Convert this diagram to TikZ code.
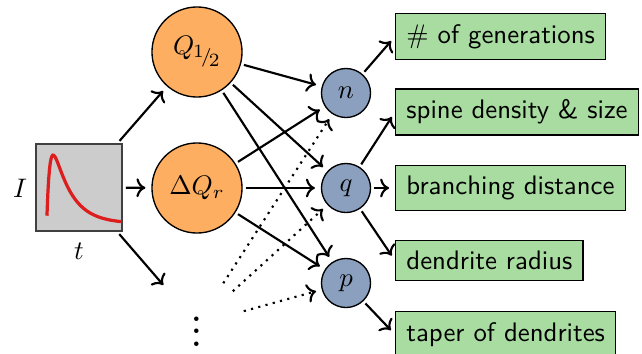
\documentclass[tikz,border=0pt]{standalone}
\usetikzlibrary{arrows.meta}
\definecolor{qorange}{RGB}{253,174,97}
\definecolor{pblue}{RGB}{138,160,190}
\definecolor{ogreen}{RGB}{168,220,160}
\definecolor{boxgray}{RGB}{204,204,204}
\definecolor{curvered}{RGB}{220,30,30}
\begin{document}
\begin{tikzpicture}[x=0.3731pt,y=-0.3731pt,
  arr/.style={->, thick, shorten <=1.1pt, shorten >=2.2pt},
  dotarr/.style={arr, dotted},
  sigbox/.style={draw=black!75, fill=boxgray, line width=0.6pt, minimum width=32.1pt, minimum height=32.5pt, inner sep=0pt},
  orangec/.style={circle, draw, fill=qorange, line width=0.5pt, minimum size=33.6pt, inner sep=0pt},
  hiddenc/.style={circle, minimum size=33.6pt, inner sep=0pt},
  bluec/.style={circle, draw, fill=pblue, line width=0.5pt, minimum size=18.3pt, inner sep=0pt},
  outbox/.style={draw, fill=ogreen, line width=0.5pt, font=\sffamily, inner sep=4pt, anchor=west}]
\useasboundingbox (0,0) rectangle (642,353);
% input signal
\node[sigbox] (sig) at (79,187.5) {};
\draw[curvered, line width=1.2pt] plot[domain=0.25:75, samples=90, variable=\u] ({46.7+\u}, {223.5-117.5*(exp(-\u/18)-exp(-\u/3))});
\node (Ilab) at (20,188) {$I$};
\node (tlab) at (79,251) {$t$};
% features
\node[orangec] (Q) at (197,52) {$Q_{\mkern-1mu\raisebox{0.45ex}{$\scriptstyle1$}\mkern-2.5mu/\mkern-2.5mu\raisebox{-0.35ex}{$\scriptstyle2$}}$};
\node[orangec] (dQ) at (197,188) {$\Delta Q_r$};
\node[hiddenc] (dots) at (197,324) {};
\node[scale=1.2, font=\Large] (vd) at (197,322) {$\vdots$};
% parameters
\node[bluec] (n) at (346,93) {$n$};
\node[bluec] (q) at (346,188) {$q$};
\node[bluec] (p) at (346,283) {$p$};
% outputs
\node[outbox] (gen) at (395,36.5) {\# of generations};
\node[outbox] (spine) at (395,112) {spine density \& size};
\node[outbox] (branch) at (395,188) {branching distance};
\node[outbox] (radius) at (395,260.5) {dendrite radius};
\node[outbox] (taper) at (395,334.5) {taper of dendrites};
% connectors
\draw[arr] (sig) -- (Q);
\draw[arr] (sig) -- (dQ);
\draw[arr] (sig) -- (dots);
\draw[arr] (Q) -- (n);
\draw[arr] (Q) -- (q);
\draw[arr] (Q) -- (p);
\draw[arr] (dQ) -- (n);
\draw[arr] (dQ) -- (q);
\draw[arr] (dQ) -- (p);
\draw[dotarr] (dots) -- (n);
\draw[dotarr] (dots) -- (q);
\draw[dotarr] (dots) -- (p);
\draw[arr] (n) -- (gen.west);
\draw[arr] (q) -- (spine.west);
\draw[arr] (q) -- (branch.west);
\draw[arr] (q) -- (radius.west);
\draw[arr] (p) -- (taper.west);
\end{tikzpicture}
\end{document}
